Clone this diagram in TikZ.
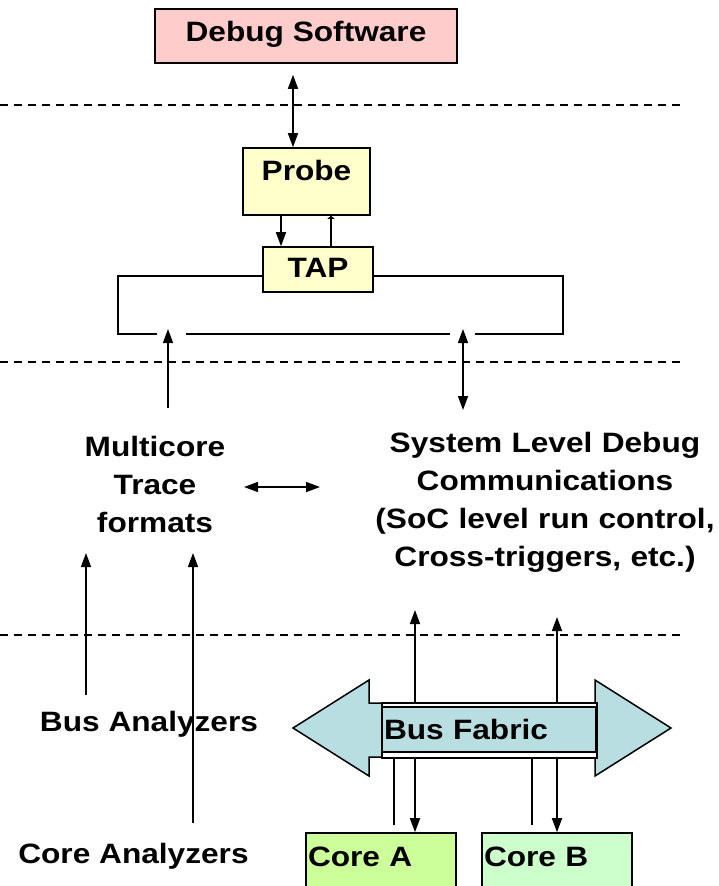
\documentclass[tikz,border=0pt]{standalone}
\usepackage{fontspec}
\setmainfont[FakeStretch=1.13]{Liberation Sans}
\usetikzlibrary{arrows.meta}
\definecolor{dspink}{RGB}{255,204,204}
\definecolor{ylw}{RGB}{255,255,204}
\definecolor{coreAc}{RGB}{204,255,153}
\definecolor{coreBc}{RGB}{204,255,204}
\definecolor{busc}{RGB}{184,222,226}
\begin{document}
\begin{tikzpicture}[x=1pt,y=-1pt,
  txt/.style={font=\fontsize{28}{38}\selectfont\bfseries, inner sep=0pt},
  box/.style={draw, line width=1.6pt, txt},
  conn/.style={line width=1.5pt},
  arr/.style={conn, -{Triangle[length=14pt,width=10pt]}},
  darr/.style={conn, {Triangle[length=14pt,width=10pt]}-{Triangle[length=14pt,width=10pt]}},
  tinyarr/.style={conn, -{Triangle[length=3pt,width=7pt]}},
  sep/.style={line width=1.5pt, dash pattern=on 8pt off 6pt},
  thin/.style={line width=1.3pt},
]
\useasboundingbox (0,0) rectangle (719,886);
\clip (0,0) rectangle (719,886);

% separators
\draw[sep] (0,105) -- (680,105);
\draw[sep] (0,362) -- (680,362);
\draw[sep] (0,635) -- (680,635);

% top boxes
\node[box, fill=dspink, minimum width=302pt, text height=32.5pt, text depth=21.5pt] (ds) at (306,36) {Debug Software};
\node[box, fill=ylw, minimum width=127pt, text height=32pt, text depth=35pt] (probe) at (306.5,181.5) {Probe};
\node[box, fill=ylw, minimum width=110pt, text height=30pt, text depth=15pt] (tap) at (318,269.5) {TAP};

\draw[darr] ([xshift=-13pt,yshift=-11pt]ds.south) -- ([xshift=-13.5pt]probe.north);
\draw[arr] ([xshift=-25.5pt]probe.south) -- ([xshift=-37pt]tap.north);
\draw[tinyarr] ([xshift=13pt]tap.north) -- ([xshift=24.5pt]probe.south);

% TAP loop
\coordinate (loopL) at (118,334);
\coordinate (loopR) at (563,334);
\coordinate (g1a) at (157,334);
\coordinate (g1b) at (186,334);
\coordinate (g2a) at (450,334);
\coordinate (g2b) at (475,334);
\draw[conn] ([yshift=-6.5pt]tap.west) -| (loopL) -- (g1a);
\draw[conn] (g1b) -- (g2a);
\draw[conn] ([yshift=-6.5pt]tap.east) -| (loopR) -- (g2b);

% middle texts
\node[txt, text width=220pt, align=center, anchor=base] (mc) at (155,456) {Multicore\\Trace\\formats};
\node[txt, text width=360pt, align=center, anchor=base] (sys) at (545,452) {System Level Debug\\Communications\\(SoC level run control,\\Cross-triggers, etc.)};

\coordinate (mtail) at (168,408);
\coordinate (mtip) at (168,329);
\coordinate (stail) at (463,410);
\coordinate (stip) at (463,329);
\draw[arr] (mtail) -- (mtip);
\draw[darr] (stail) -- (stip);

\coordinate (h1) at (244,487);
\coordinate (h2) at (320,487);
\draw[darr] (h1) -- (h2);

% analyzers
\node[txt, anchor=base] (ba) at (149,731) {Bus Analyzers};
\node[txt, anchor=base] (ca) at (133.5,863) {Core Analyzers};
\coordinate (ba1) at (86,695);
\coordinate (ba2) at (86,553);
\coordinate (ca1) at (193,823);
\coordinate (ca2) at (193,553);
\draw[arr] (ba1) -- (ba2);
\draw[arr] (ca1) -- (ca2);

% cores
\node[box, fill=coreAc, inner xsep=2pt, text width=146pt, align=left, text height=33pt, text depth=34pt] (coreA) at (381,866.5) {Core A};
\node[box, fill=coreBc, inner xsep=2pt, text width=146pt, align=left, text height=33pt, text depth=34pt] (coreB) at (557,866.5) {Core B};

% core links
\coordinate (up1) at (415,610);
\coordinate (up2) at (557,617);
\draw[darr] (up1) -- (up1 |- coreA.north);
\draw[darr] (up2) -- (up2 |- coreB.north);

% bus fabric arrow
\draw[line width=1.5pt, fill=busc] (293,728) -- (369,680) -- (369,703) -- (595,703) -- (595,680) -- (671,728) -- (595,776) -- (595,757) -- (369,757) -- (369,776) -- cycle;
\draw[line width=1.5pt, fill=white] (382,703) rectangle (597,758);
\node[box, fill=busc, inner xsep=2pt, text width=210pt, align=left, text height=32pt, text depth=13pt] (bus) at (489,729.5) {Bus Fabric};

\coordinate (t1a) at (394,759);
\coordinate (t1b) at (394,825);
\coordinate (t2a) at (532,759);
\coordinate (t2b) at (532,825);
\draw[thin] (t1a) -- (t1b);
\draw[thin] (t2a) -- (t2b);
\end{tikzpicture}
\end{document}
